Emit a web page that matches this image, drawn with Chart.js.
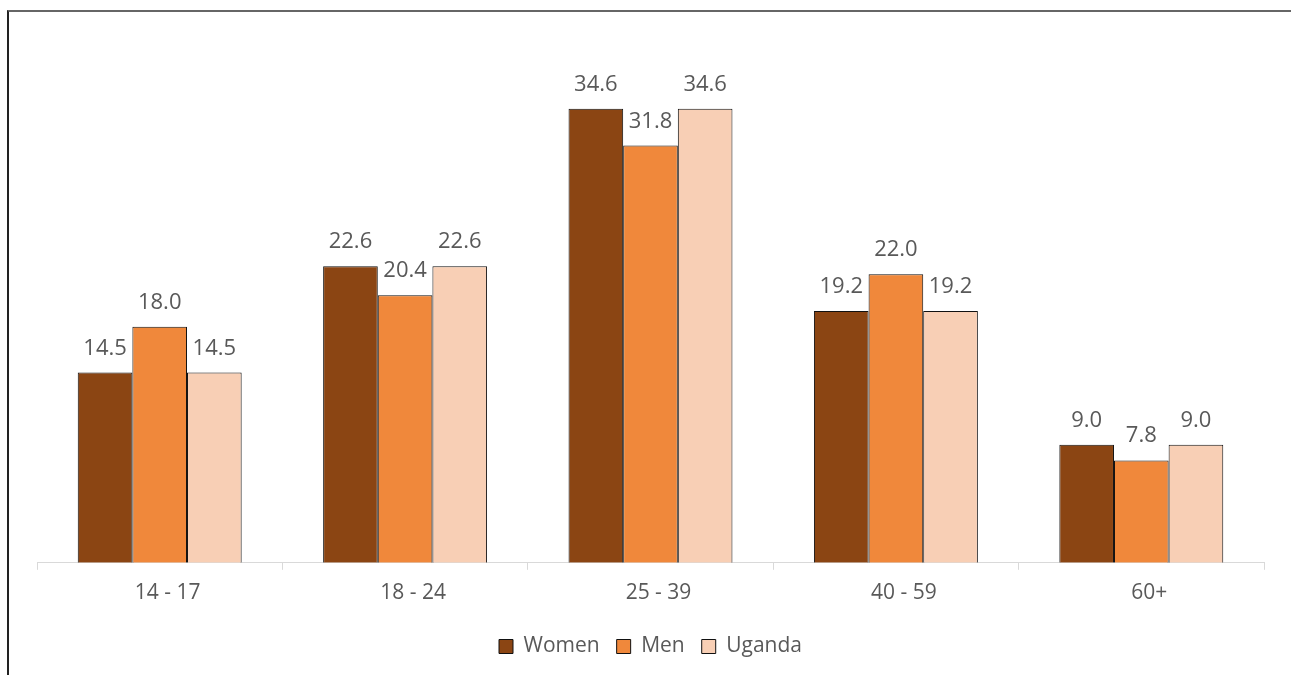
<!DOCTYPE html>
<html>
<head>
<meta charset="utf-8">
<script src="https://cdn.jsdelivr.net/npm/chart.js@4.4.1/dist/chart.umd.min.js"></script>
<style>
  html, body { margin: 0; padding: 0; background: #fff; }
  #wrap { position: relative; width: 1291px; height: 675px; overflow: hidden; }
  #frame { position: absolute; left: 7px; top: 10px; width: 1300px; height: 700px;
           border-top: 2px solid #666; border-left: 2px solid #222; box-sizing: border-box; }
  canvas { position: absolute; left: 0; top: 0; }
</style>
</head>
<body>
<div id="wrap">
  <div id="frame"></div>
  <canvas id="chart" width="1291" height="675"></canvas>
</div>
<script>
// age groups and shares (%)
const ageGroups = ["14 - 17", "18 - 24", "25 - 39", "40 - 59", "60+"];
const women  = [14.5, 22.6, 34.6, 19.2, 9.0];
const men    = [18.0, 20.4, 31.8, 22.0, 7.8];
const uganda = [14.5, 22.6, 34.6, 19.2, 9.0];

const textGrey = "#595959";
const fontFam = "'Open Sans', sans-serif";

// value labels above each bar
const barLabels = {
  id: "barLabels",
  afterDatasetsDraw(chart) {
    const ctx = chart.ctx;
    ctx.save();
    ctx.font = "22px " + fontFam;
    ctx.fillStyle = textGrey;
    ctx.textAlign = "center";
    ctx.textBaseline = "alphabetic";
    chart.data.datasets.forEach((ds, i) => {
      chart.getDatasetMeta(i).data.forEach((bar, j) => {
        ctx.fillText(ds.data[j].toFixed(1), bar.x, bar.y - 18);
      });
    });
    ctx.restore();
  }
};

new Chart(document.getElementById("chart"), {
  type: "bar",
  data: {
    labels: ageGroups,
    datasets: [
      { label: "Women",  data: women,  backgroundColor: "#8B4513", borderColor: "#111", borderWidth: 1 },
      { label: "Men",    data: men,    backgroundColor: "#F0883B", borderColor: "#111", borderWidth: 1 },
      { label: "Uganda", data: uganda, backgroundColor: "#F8CFB5", borderColor: "#111", borderWidth: 1 },
    ],
  },
  options: {
    responsive: false,
    animation: false,
    layout: { padding: { left: 37, right: 27, top: 38, bottom: 8 } },
    datasets: { bar: { categoryPercentage: 0.668, barPercentage: 1 } },
    plugins: {
      legend: {
        position: "bottom",
        labels: {
          color: textGrey,
          font: { family: fontFam, size: 21 },
          boxWidth: 14,
          boxHeight: 14,
          padding: 17,
        },
      },
      tooltip: { enabled: false },
    },
    scales: {
      x: {
        grid: { offset: true, drawOnChartArea: false, color: "#d9d9d9", tickLength: 7 },
        border: { color: "#d9d9d9" },
        ticks: { color: textGrey, font: { family: fontFam, size: 21 }, padding: 11, labelOffset: 8 },
        afterFit(scale) { scale.height += 2; },
      },
      y: { display: false, min: 0, max: 40 },
    },
  },
  plugins: [barLabels],
});
</script>
</body>
</html>
